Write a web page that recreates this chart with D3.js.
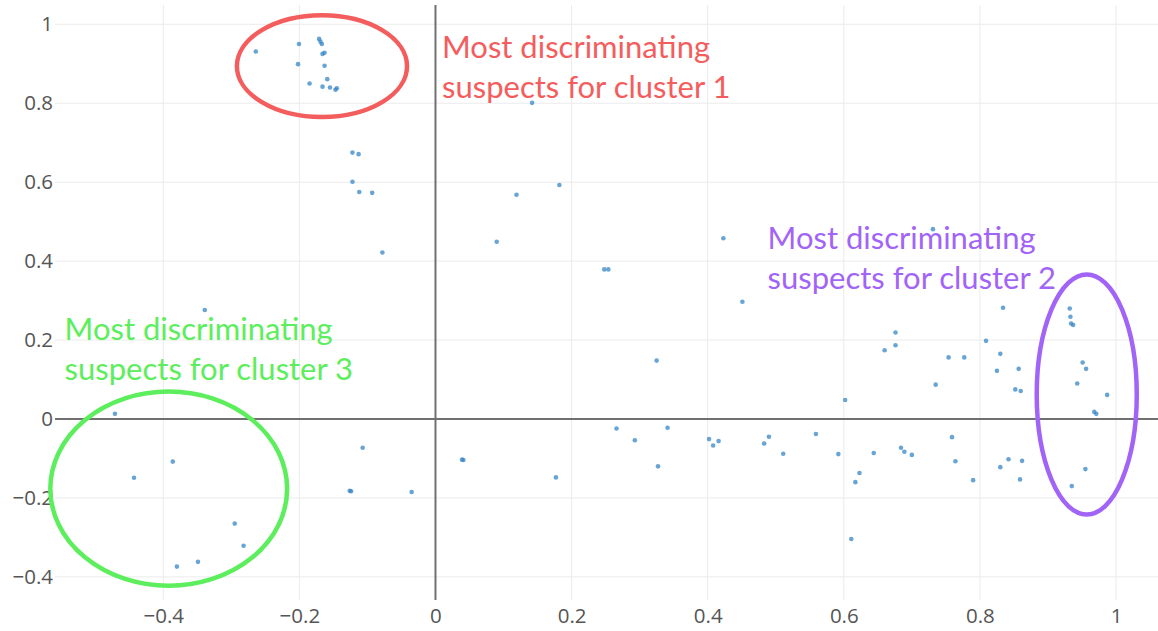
<!DOCTYPE html>
<html>
<head>
<meta charset="utf-8">
<script src="https://cdn.jsdelivr.net/npm/d3@7"></script>
<style>
  html, body { margin: 0; padding: 0; background: #fff; }
  svg { display: block; }
</style>
</head>
<body>
<svg id="chart" width="1158" height="631"></svg>
<script>
// ---- data ----
const xValues = [
  -0.264, -0.2006, -0.202, -0.171, -0.169, -0.167, -0.166, -0.163, -0.163, -0.185,
  -0.159, -0.166, -0.155, -0.147, -0.145, -0.122, -0.113, -0.122, -0.112, -0.093,
  -0.078, -0.339, -0.471, 0.142, 0.119, 0.182, 0.090, 0.248, 0.254, 0.423,
  0.451, 0.325, 0.266, 0.293, 0.341, 0.402, 0.408, 0.416, 0.483, 0.490,
  0.511, 0.559, 0.039, 0.177, 0.327, -0.443, -0.386, -0.295, -0.282, -0.349,
  -0.380, -0.107, -0.126, -0.035, 0.592, 0.617, 0.623, 0.611, 0.644, 0.684,
  0.689, 0.700, 0.759, 0.764, 0.790, 0.830, 0.842, 0.862, 0.859, 0.935,
  0.955, 0.731, 0.834, 0.932, 0.933, 0.934, 0.937, 0.676, 0.676, 0.660,
  0.809, 0.830, 0.754, 0.777, 0.825, 0.857, 0.852, 0.860, 0.735, 0.951,
  0.956, 0.943, 0.987, 0.968, 0.971, 0.602, 0.041, -0.124
];
const yValues = [
  0.931, 0.950, 0.899, 0.963, 0.956, 0.950, 0.925, 0.928, 0.895, 0.850,
  0.861, 0.842, 0.840, 0.834, 0.838, 0.675, 0.671, 0.601, 0.575, 0.573,
  0.422, 0.276, 0.013, 0.801, 0.568, 0.593, 0.449, 0.379, 0.379, 0.458,
  0.297, 0.148, -0.024, -0.054, -0.022, -0.051, -0.067, -0.056, -0.062, -0.045,
  -0.088, -0.038, -0.103, -0.148, -0.120, -0.149, -0.108, -0.265, -0.321, -0.362,
  -0.374, -0.073, -0.182, -0.185, -0.089, -0.160, -0.137, -0.304, -0.086, -0.073,
  -0.083, -0.091, -0.046, -0.107, -0.155, -0.122, -0.102, -0.106, -0.153, -0.170,
  -0.127, 0.481, 0.282, 0.280, 0.259, 0.242, 0.238, 0.219, 0.187, 0.174,
  0.198, 0.165, 0.156, 0.156, 0.122, 0.127, 0.075, 0.071, 0.087, 0.143,
  0.127, 0.090, 0.061, 0.018, 0.013, 0.048, -0.104, -0.183
];
const xTicks = [-0.4, -0.2, 0, 0.2, 0.4, 0.6, 0.8, 1];
const yTicks = [-0.4, -0.2, 0, 0.2, 0.4, 0.6, 0.8, 1];
const xTickLabels = ["\u22120.4", "\u22120.2", "0", "0.2", "0.4", "0.6", "0.8", "1"];
const yTickLabels = ["\u22120.4", "\u22120.2", "0", "0.2", "0.4", "0.6", "0.8", "1"];

// annotations (data coordinates)
const noteLines = [
  ["Most discriminating", "suspects for cluster 1"],
  ["Most discriminating", "suspects for cluster 2"],
  ["Most discriminating", "suspects for cluster 3"]
];
const noteX = [0.0096, 0.488, -0.545];
const noteY = [0.914, 0.430, 0.200];
const ellipseCx = [-0.1668, 0.957, -0.392];
const ellipseCy = [0.894, 0.062, -0.1766];
const ellipseRx = [0.125, 0.0735, 0.174];
const ellipseRy = [0.129, 0.304, 0.246];
const noteColors = ["#f45d5d", "#a264f6", "#5cee5c"];

// ---- layout ----
const W = 1158, H = 631;
const plot = { left: 55, right: 1158, top: 5, bottom: 600 };
const x = d3.scaleLinear().domain([-0.5591, 1.0617]).range([plot.left, plot.right]);
const y = d3.scaleLinear().domain([-0.4586, 1.0489]).range([plot.bottom, plot.top]);

const svg = d3.select("#chart");

// grid
const grid = svg.append("g");
grid.selectAll("line.vg").data(xTicks.filter(d => d !== 0)).join("line")
  .attr("x1", d => x(d)).attr("x2", d => x(d))
  .attr("y1", plot.top).attr("y2", plot.bottom)
  .attr("stroke", "#ebebeb").attr("stroke-width", 1);
grid.selectAll("line.hg").data(yTicks.filter(d => d !== 0)).join("line")
  .attr("x1", plot.left).attr("x2", plot.right)
  .attr("y1", d => y(d)).attr("y2", d => y(d))
  .attr("stroke", "#ebebeb").attr("stroke-width", 1);

// zero lines
svg.append("line")
  .attr("x1", x(0)).attr("x2", x(0)).attr("y1", plot.top).attr("y2", plot.bottom)
  .attr("stroke", "#707070").attr("stroke-width", 2);
svg.append("line")
  .attr("x1", plot.left).attr("x2", plot.right).attr("y1", y(0)).attr("y2", y(0))
  .attr("stroke", "#707070").attr("stroke-width", 2);

// axes
const xAxis = d3.axisBottom(x).tickValues(xTicks).tickSize(0).tickPadding(0)
  .tickFormat((d, i) => xTickLabels[i]);
const gx = svg.append("g").attr("transform", `translate(0,${plot.bottom})`).call(xAxis);
gx.select(".domain").remove();
gx.selectAll("text").attr("dy", null).attr("y", 23)
  .attr("font-family", "'Open Sans', sans-serif").attr("font-size", 20.5).attr("fill", "#555");

const yAxis = d3.axisLeft(y).tickValues(yTicks).tickSize(0).tickPadding(0)
  .tickFormat((d, i) => yTickLabels[i]);
const gy = svg.append("g").attr("transform", `translate(${plot.left - 2},0)`).call(yAxis);
gy.select(".domain").remove();
gy.selectAll("text")
  .attr("font-family", "'Open Sans', sans-serif").attr("font-size", 20.5).attr("fill", "#555");

// points
const pts = xValues.map((v, i) => ({ x: v, y: yValues[i] }));
svg.append("g").selectAll("circle").data(pts).join("circle")
  .attr("cx", d => x(d.x)).attr("cy", d => y(d.y)).attr("r", 2.3)
  .attr("fill", "#3585c6").attr("fill-opacity", 0.75);

// ellipses
svg.append("g").selectAll("ellipse").data(ellipseCx).join("ellipse")
  .attr("cx", (d) => x(d))
  .attr("cy", (d, i) => y(ellipseCy[i]))
  .attr("rx", (d, i) => x(ellipseRx[i]) - x(0))
  .attr("ry", (d, i) => y(0) - y(ellipseRy[i]))
  .attr("fill", "none")
  .attr("stroke", (d, i) => noteColors[i])
  .attr("stroke-width", 4.5);

// annotation texts
const notes = svg.append("g").selectAll("text").data(noteLines).join("text")
  .attr("x", (d, i) => x(noteX[i]))
  .attr("y", (d, i) => y(noteY[i]))
  .attr("fill", (d, i) => noteColors[i])
  .attr("font-family", "Lato, sans-serif")
  .attr("font-size", 31);
notes.each(function(lines, i) {
  d3.select(this).selectAll("tspan").data(lines).join("tspan")
    .attr("x", x(noteX[i]))
    .attr("dy", (d, j) => j === 0 ? 0 : 40)
    .text(d => d);
});
</script>
</body>
</html>
